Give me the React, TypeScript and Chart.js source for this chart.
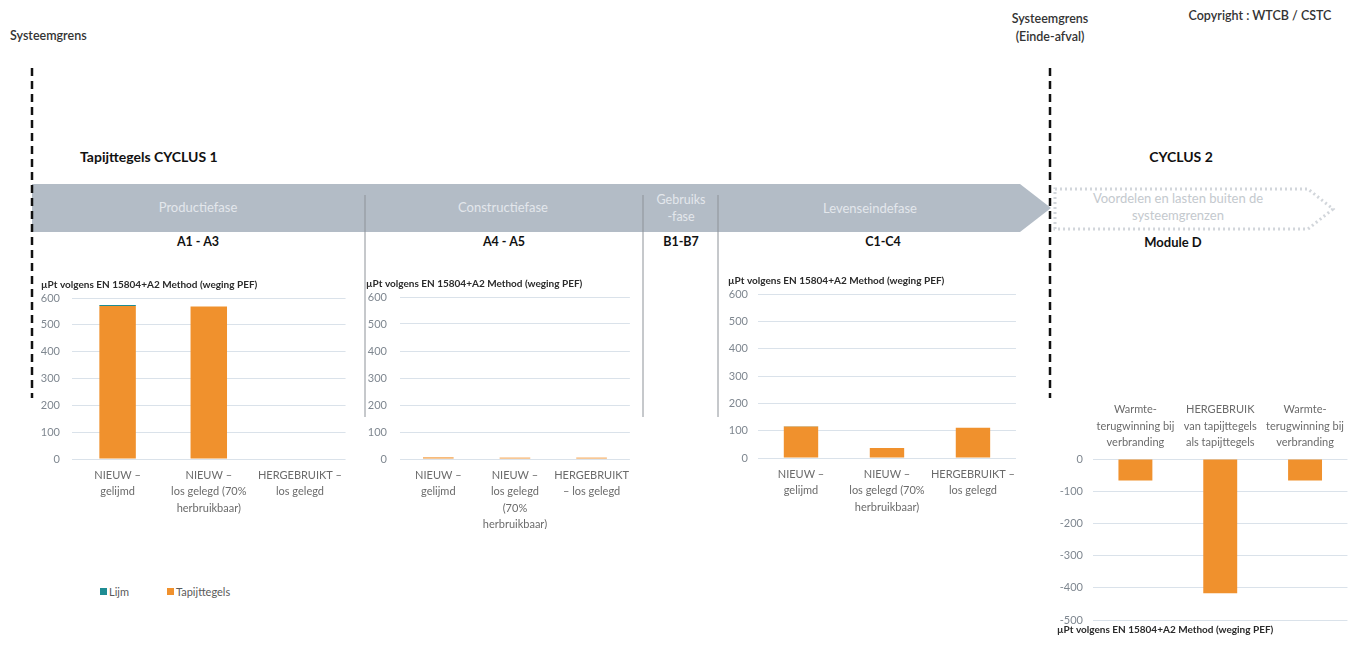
import React, { useEffect, useRef } from "react";
import { Chart, registerables } from "chart.js";
Chart.register(...registerables);

const FONT = "Lato, 'Open Sans', sans-serif";
const ORANGE = "#F0912D";
const TEAL = "#1E8C93";
const GRID = "#dae2ea";
const TICK = "#7f8790";
const CAT = "#6b6b6b";

const axisTitle = "µPt volgens EN 15804+A2 Method (weging PEF)";

const categoriesA13 = [["NIEUW –", "gelijmd"], ["NIEUW –", "los gelegd (70%", "herbruikbaar)"], ["HERGEBRUIKT –", "los gelegd"]];
const categoriesA45 = [["NIEUW –", "gelijmd"], ["NIEUW –", "los gelegd", "(70%", "herbruikbaar)"], ["HERGEBRUIKT", "– los gelegd"]];
const categoriesC14 = [["NIEUW –", "gelijmd"], ["NIEUW –", "los gelegd (70%", "herbruikbaar)"], ["HERGEBRUIKT –", "los gelegd"]];
const categoriesD = [["Warmte-", "terugwinning bij", "verbranding"], ["HERGEBRUIK", "van tapijttegels", "als tapijttegels"], ["Warmte-", "terugwinning bij", "verbranding"]];

const tapijtA13 = [570, 568, 0];
const lijmA13 = [4, 0, 0];
const tapijtA45 = [6, 5, 5];
const lijmA45 = [0, 0, 0];
const tapijtC14 = [115, 37, 111];
const lijmC14 = [1, 0, 0];
const moduleD = [-67, -417, -67];

const positiveRange = [0, 600];
const negativeRange = [-500, 0];
const tickStep = 100;

const legendItems = [
  { label: "Lijm", color: TEAL },
  { label: "Tapijttegels", color: ORANGE },
];

type CP = {
  left: number; top: number; width: number; height: number;
  categories: string[][];
  tapijt: number[]; lijm?: number[];
  range: number[];
  xPos: "top" | "bottom";
  titlePos: "top" | "bottom";
  yW: number; xH: number; yPad: number; xPad: number;
  titlePad: { top: number; bottom: number };
};

function BarPanel(p: CP) {
  const ref = useRef<HTMLCanvasElement>(null);
  useEffect(() => {
    if (!ref.current) return;
    const datasets: any[] = [
      { label: "Tapijttegels", data: p.tapijt, backgroundColor: ORANGE, categoryPercentage: 0.8, barPercentage: 0.5 },
    ];
    if (p.lijm) datasets.push({ label: "Lijm", data: p.lijm, backgroundColor: TEAL, categoryPercentage: 0.8, barPercentage: 0.5 });
    const chart = new Chart(ref.current, {
      type: "bar",
      data: { labels: p.categories as any, datasets },
      options: {
        animation: false,
        responsive: false,
        layout: { padding: 0 },
        plugins: {
          legend: { display: false },
          tooltip: { enabled: false },
          title: {
            display: true, text: axisTitle, position: p.titlePos, align: "start",
            color: "#2a2a2a", font: { family: FONT, size: 10, weight: "bold", lineHeight: 1.2 },
            padding: p.titlePad,
          },
        },
        scales: {
          x: {
            stacked: true, position: p.xPos,
            grid: { display: false, drawTicks: false },
            border: { display: false },
            ticks: { autoSkip: false, maxRotation: 0, minRotation: 0, padding: p.xPad, color: CAT, font: { family: FONT, size: 11, lineHeight: 1.5 } },
            afterFit: (s: any) => { s.height = p.xH; },
          },
          y: {
            stacked: true, min: p.range[0], max: p.range[1],
            grid: { color: GRID, drawTicks: false, lineWidth: 1 },
            border: { display: false },
            ticks: { stepSize: tickStep, padding: p.yPad, color: TICK, font: { family: FONT, size: 11 } },
            afterFit: (s: any) => { s.width = p.yW; },
          },
        },
      },
    });
    return () => chart.destroy();
  }, []);
  return (
    <canvas ref={ref} width={p.width} height={p.height}
      style={{ position: "absolute", left: p.left, top: p.top, width: p.width, height: p.height }} />
  );
}

export default function App() {
  const txt = (x: number, y: number, s: string, o: any = {}) => (
    <text x={x} y={y} dominantBaseline="middle" fontFamily={FONT} fontSize={o.size || 12}
      fontWeight={o.weight || "normal"} fill={o.fill || "#222"} textAnchor={o.anchor || "middle"}>{s}</text>
  );
  const BANNER_TXT = "#e3e7ec";
  return (
    <div style={{ position: "fixed", left: 0, top: 0, width: 1368, height: 646, background: "#fff", overflow: "hidden" }}>
      <svg width={1368} height={646} style={{ position: "absolute", left: 0, top: 0 }}>
        <polygon points="32,184 1020,184 1051,208 1020,232 32,232" fill="#b3bcc6" />
        <polygon points="1055,189 1308,189 1333,209 1308,229 1055,229" fill="none" stroke="#d2d6db" strokeWidth={3} strokeDasharray="2 3" />
        <line x1={365} y1={195} x2={365} y2={417} stroke="#8d9298" strokeWidth={1} />
        <line x1={643} y1={195} x2={643} y2={417} stroke="#8d9298" strokeWidth={1} />
        <line x1={718} y1={195} x2={718} y2={417} stroke="#8d9298" strokeWidth={1} />
        <line x1={32} y1={68} x2={32} y2={398} stroke="#111" strokeWidth={2.5} strokeDasharray="8 5" />
        <line x1={1050} y1={68} x2={1050} y2={398} stroke="#111" strokeWidth={2.5} strokeDasharray="8 5" />
        {txt(10, 37, "Systeemgrens", { anchor: "start", weight: 600, size: 12.5, fill: "#333" })}
        {txt(1050, 20, "Systeemgrens", { weight: 600, size: 12.5, fill: "#333" })}
        {txt(1050, 38, "(Einde-afval)", { weight: 600, size: 12.5, fill: "#333" })}
        {txt(1260, 17, "Copyright : WTCB / CSTC", { weight: 600, size: 12.5, fill: "#333" })}
        {txt(80, 158, "Tapijttegels CYCLUS 1", { anchor: "start", weight: "bold", size: 14, fill: "#111" })}
        {txt(1181, 158, "CYCLUS 2", { weight: "bold", size: 14, fill: "#111" })}
        {txt(198, 209, "Productiefase", { size: 13, fill: BANNER_TXT })}
        {txt(503, 209, "Constructiefase", { size: 13, fill: BANNER_TXT })}
        {txt(681, 201, "Gebruiks", { size: 12.5, fill: BANNER_TXT })}
        {txt(681, 218, "-fase", { size: 12.5, fill: BANNER_TXT })}
        {txt(870, 210, "Levenseindefase", { size: 13, fill: BANNER_TXT })}
        {txt(1178, 200, "Voordelen en lasten buiten de", { size: 13, fill: "#c4c9ce" })}
        {txt(1178, 217, "systeemgrenzen", { size: 13, fill: "#c4c9ce" })}
        {txt(198, 243, "A1 - A3", { weight: "bold", size: 12.5, fill: "#111" })}
        {txt(504, 243, "A4 - A5", { weight: "bold", size: 12.5, fill: "#111" })}
        {txt(681, 243, "B1-B7", { weight: "bold", size: 12.5, fill: "#111" })}
        {txt(883, 243, "C1-C4", { weight: "bold", size: 12.5, fill: "#111" })}
        {txt(1173, 244, "Module D", { weight: "bold", size: 13, fill: "#111" })}
      </svg>
      <BarPanel left={41} top={275} width={309} height={240} categories={categoriesA13}
        tapijt={tapijtA13} lijm={lijmA13} range={positiveRange} xPos="bottom" titlePos="top"
        yW={31} xH={56} yPad={12} xPad={8} titlePad={{ top: 4, bottom: 7 }} />
      <BarPanel left={366} top={274} width={271} height={255} categories={categoriesA45}
        tapijt={tapijtA45} lijm={lijmA45} range={positiveRange} xPos="bottom" titlePos="top"
        yW={34} xH={70} yPad={13} xPad={8} titlePad={{ top: 4, bottom: 7 }} />
      <BarPanel left={728} top={271} width={295} height={243} categories={categoriesC14}
        tapijt={tapijtC14} lijm={lijmC14} range={positiveRange} xPos="bottom" titlePos="top"
        yW={30} xH={56} yPad={10} xPad={8} titlePad={{ top: 4, bottom: 7 }} />
      <BarPanel left={1057} top={400} width={295} height={240} categories={categoriesD}
        tapijt={moduleD} range={negativeRange} xPos="top" titlePos="bottom"
        yW={36} xH={59} yPad={10} xPad={8} titlePad={{ top: 4, bottom: 4 }} />
      <div style={{ position: "absolute", left: 100, top: 585, display: "flex", gap: 38, fontFamily: FONT, fontSize: 11, color: "#5a5a5a" }}>
        {legendItems.map((it) => (
          <div key={it.label} style={{ display: "flex", alignItems: "center", gap: 2 }}>
            <span style={{ display: "inline-block", width: 7, height: 7, background: it.color }} />
            <span>{it.label}</span>
          </div>
        ))}
      </div>
    </div>
  );
}
